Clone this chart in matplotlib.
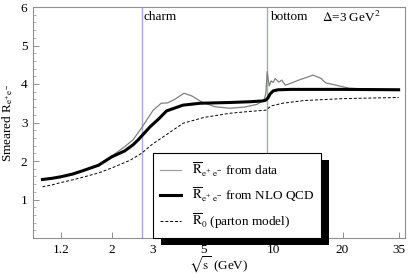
import matplotlib
matplotlib.use("Agg")
import matplotlib.pyplot as plt
from matplotlib.patches import Rectangle
from matplotlib.transforms import IdentityTransform
from matplotlib.ticker import FixedLocator, NullFormatter, MultipleLocator

plt.rcParams['font.family'] = ['Liberation Serif', 'DejaVu Serif']
plt.rcParams['mathtext.fontset'] = 'stix'

# ---- data ----
sqrt_s_nlo = [1.0, 1.1, 1.2, 1.35, 1.5, 1.75, 2.0, 2.27, 2.47, 2.6, 2.93, 3.2, 3.45, 4.06, 4.82,
              6.5, 8.0, 9.0, 9.3, 9.5, 9.7, 10.0, 10.5, 12.0, 20.0, 35.0]
R_nlo = [1.52, 1.55, 1.59, 1.66, 1.75, 1.89, 2.11, 2.26, 2.42, 2.55, 2.89, 3.10, 3.30, 3.45, 3.50,
         3.52, 3.54, 3.56, 3.58, 3.64, 3.74, 3.82, 3.85, 3.86, 3.86, 3.85]

sqrt_s_data = [1.0, 1.2, 1.5, 1.75, 2.0, 2.27, 2.47, 2.69, 3.02, 3.27, 3.49, 3.74, 4.11, 4.44,
               4.88, 5.59, 6.5, 7.5, 8.5, 9.13, 9.3, 9.42, 9.62, 9.8, 10.0, 10.2, 10.6, 10.9,
               11.3, 11.7, 12.9, 14.9, 16.1, 16.9, 21.4, 25.0, 35.0]
R_data = [1.52, 1.59, 1.75, 1.90, 2.13, 2.37, 2.55, 2.86, 3.32, 3.50, 3.51, 3.60, 3.76, 3.69,
          3.54, 3.41, 3.37, 3.40, 3.47, 3.58, 3.75, 4.32, 3.95, 4.08, 4.04, 4.14, 4.05, 4.10,
          3.97, 4.00, 4.10, 4.23, 4.15, 4.03, 3.89, 3.87, 3.86]

sqrt_s_parton = [1.0, 1.1, 1.2, 1.35, 1.5, 1.75, 2.0, 2.4, 2.69, 3.0, 3.27, 4.07, 5.0, 6.5,
                 8.0, 9.3, 9.8, 11.0, 13.6, 20.0, 35.0]
R_parton = [1.33, 1.38, 1.44, 1.51, 1.58, 1.69, 1.82, 2.02, 2.20, 2.44, 2.59, 2.98, 3.13, 3.24,
            3.29, 3.32, 3.43, 3.50, 3.57, 3.62, 3.65]

thresholds = [2.7, 9.4]
threshold_labels = ['charm', 'bottom']

xticks = [1.2, 2, 3, 5, 10, 20, 35]
xtick_labels = ['1.2', '2', '3', '5', '10', '20', '35']
yticks = [1, 2, 3, 4, 5, 6]

legend_labels = [r'$\overline{\mathrm{R}}_{\mathrm{e^{+}\ e^{-}}}$ from data',
                 r'$\overline{\mathrm{R}}_{\mathrm{e^{+}\ e^{-}}}$ from NLO QCD',
                 r'$\overline{\mathrm{R}}_{0}$ (parton model)']

# ---- figure ----
W, H = 409, 275
fig = plt.figure(figsize=(W / 100, H / 100), dpi=100)
ax = fig.add_axes([33 / W, (H - 238) / H, 372 / W, 231 / H])
ax.set_xscale('log')
ax.set_xlim(0.91, 37.3)
ax.set_ylim(0, 6)

for xv in thresholds:
    ax.axvline(xv, color='#a8a8d8', lw=1.0, zorder=1)

ax.plot(sqrt_s_data, R_data, color='#808080', lw=0.9, zorder=3)
ax.plot(sqrt_s_nlo, R_nlo, color='black', lw=2.2, zorder=4)
ax.plot(sqrt_s_parton, R_parton, color='black', lw=0.7, ls=(0, (3, 2)), zorder=3)

ax.xaxis.set_major_locator(FixedLocator(xticks))
ax.set_xticklabels(xtick_labels)
ax.xaxis.set_minor_locator(FixedLocator([]))
ax.xaxis.set_minor_formatter(NullFormatter())
ax.set_yticks(yticks)
ax.yaxis.set_minor_locator(MultipleLocator(0.2))

ax.tick_params(which='both', direction='in', color='#909090', labelsize=9.5, pad=4)
ax.tick_params(which='major', length=4, width=0.7)
ax.tick_params(which='minor', length=2, width=0.5)
for sp in ax.spines.values():
    sp.set_color('#909090')
    sp.set_linewidth(0.8)

ax.set_xlabel(r'$\sqrt{\mathrm{s}}$ (GeV)', fontsize=9.5, labelpad=-1)
ax.set_ylabel(r'Smeared R$_{\mathrm{e^{+}e^{-}}}$', fontsize=9.5, labelpad=4)

ax.text(2.75, 5.75, threshold_labels[0], fontsize=9.5, ha='left', va='center')
ax.text(9.65, 5.75, threshold_labels[1], fontsize=9.5, ha='left', va='center')
ax.text(0.935, 0.955, r'$\Delta$=3 GeV$^{2}$', transform=ax.transAxes, fontsize=9.5,
        ha='right', va='center')

leg_handles = [plt.Line2D([], [], color='#a0a0a0', lw=0.9),
               plt.Line2D([], [], color='black', lw=2.2),
               plt.Line2D([], [], color='black', lw=0.7, ls=(0, (3, 2)))]
leg = ax.legend(leg_handles, legend_labels, loc='upper left',
                bbox_to_anchor=(0.322, 0.367), fontsize=9.5, frameon=True,
                fancybox=False, framealpha=1, edgecolor='black', handlelength=1.6,
                handletextpad=0.8, labelspacing=0.55, borderpad=0.55, borderaxespad=0)
leg.get_frame().set_linewidth(0.8)
leg.set_zorder(10)

fig.canvas.draw()
bb = leg.get_frame().get_window_extent()
shadow = Rectangle((bb.x0 + 8, bb.y0 - 7), bb.width, bb.height,
                   transform=IdentityTransform(), facecolor='black', edgecolor='none',
                   zorder=9, clip_on=False)
ax.add_patch(shadow)

fig.savefig('out.png', dpi=100)
